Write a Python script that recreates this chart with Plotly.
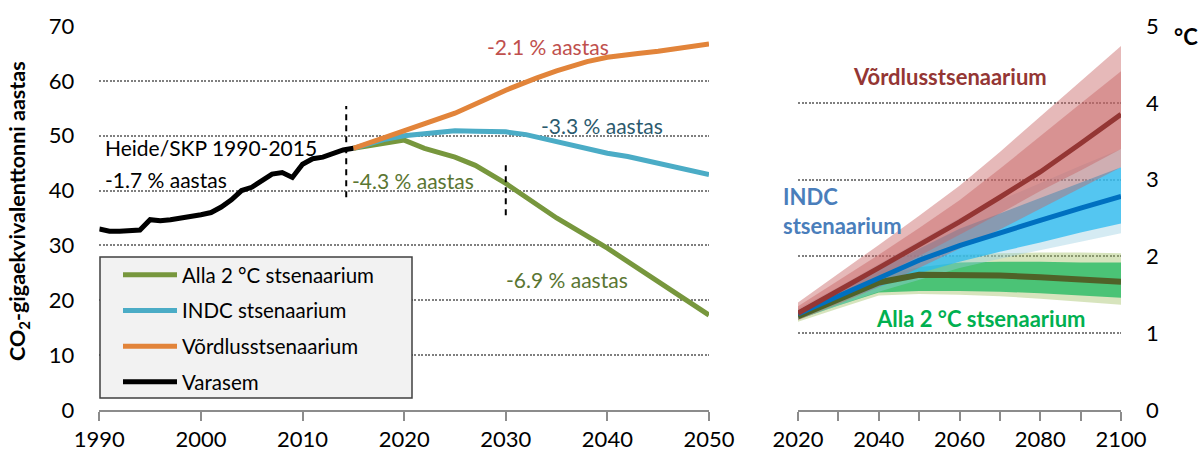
import plotly.graph_objects as go

W, H = 1203, 454
FONT = "Lato"

# ---- Left panel: global emissions, Gt CO2-eq per year ----
hist_years = list(range(1990, 2016))
hist_vals = [33.0, 32.6, 32.6, 32.7, 32.8, 34.7, 34.5, 34.7, 35.0, 35.1,
             35.6, 36.0, 37.0, 38.3, 40.0, 40.6, 41.8, 43.0, 43.3, 42.4,
             44.8, 45.8, 46.1, 46.8, 47.4, 47.7]

alla2_years = [2015, 2018, 2020, 2022, 2025, 2027, 2030, 2035, 2040, 2045, 2050]
alla2_vals = [47.7, 48.6, 49.2, 47.7, 46.1, 44.6, 41.3, 35.0, 29.5, 23.4, 17.3]

indc_years = [2015, 2018, 2020, 2022, 2025, 2027, 2030, 2032, 2035, 2037,
              2039, 2040, 2042, 2045, 2050]
indc_vals = [47.7, 49.3, 50.0, 50.4, 50.9, 50.8, 50.7, 50.2, 48.9, 48.0,
             47.1, 46.8, 46.2, 44.9, 42.9]

vord_years = [2015, 2018, 2020, 2022, 2025, 2028, 2030, 2033, 2035, 2038,
              2040, 2043, 2045, 2050]
vord_vals = [47.7, 49.6, 50.7, 52.0, 54.1, 56.6, 58.3, 60.5, 61.8, 63.5,
             64.3, 65.0, 65.4, 66.7]

# ---- Right panel: warming, degrees C ----
t_years = [2020, 2030, 2040, 2050, 2060, 2070, 2080, 2090, 2100]

vord_med = [1.26, 1.55, 1.85, 2.15, 2.45, 2.77, 3.10, 3.47, 3.85]
vord_out_hi = [1.40, 1.77, 2.15, 2.53, 2.92, 3.36, 3.82, 4.28, 4.74]
vord_out_lo = [1.17, 1.38, 1.60, 1.85, 2.10, 2.35, 2.62, 2.89, 3.16]
vord_in_hi = [1.35, 1.68, 2.02, 2.37, 2.73, 3.14, 3.57, 3.99, 4.41]
vord_in_lo = [1.20, 1.45, 1.72, 2.00, 2.28, 2.56, 2.85, 3.12, 3.40]

indc_med = [1.25, 1.48, 1.72, 1.95, 2.14, 2.31, 2.47, 2.63, 2.78]
indc_out_hi = [1.32, 1.60, 1.90, 2.20, 2.50, 2.73, 2.96, 3.18, 3.40]
indc_out_lo = [1.18, 1.36, 1.54, 1.70, 1.85, 1.97, 2.08, 2.19, 2.30]
indc_in_hi = [1.30, 1.56, 1.83, 2.10, 2.36, 2.56, 2.76, 2.96, 3.16]
indc_in_lo = [1.20, 1.40, 1.60, 1.78, 1.93, 2.06, 2.18, 2.31, 2.43]

alla2_med = [1.22, 1.44, 1.66, 1.76, 1.76, 1.75, 1.73, 1.70, 1.67]
alla2_out_hi = [1.30, 1.55, 1.80, 1.95, 2.02, 2.04, 2.05, 2.05, 2.04]
alla2_out_lo = [1.15, 1.32, 1.49, 1.51, 1.50, 1.48, 1.45, 1.41, 1.37]
alla2_in_hi = [1.27, 1.50, 1.74, 1.86, 1.92, 1.93, 1.93, 1.92, 1.92]
alla2_in_lo = [1.18, 1.36, 1.53, 1.55, 1.55, 1.54, 1.52, 1.49, 1.46]

left_ticks = list(range(1990, 2051, 10))
right_ticks = list(range(2020, 2101, 20))

C_GREEN, C_BLUE, C_ORANGE = "#77973d", "#4bacc6", "#e2843a"
GRID = "#7f7f7f"
AXIS = "#8c8c8c"

fig = go.Figure()

# emission pathways (legend order follows insertion)
for i, (name, xs, ys, col) in enumerate([
        ("Alla 2 °C stsenaarium", alla2_years, alla2_vals, C_GREEN),
        ("INDC stsenaarium", indc_years, indc_vals, C_BLUE),
        ("Võrdlusstsenaarium", vord_years, vord_vals, C_ORANGE),
        ("Varasem", hist_years, hist_vals, "#000000")]):
    fig.add_trace(go.Scatter(x=xs, y=ys, mode="lines", name=name,
                             legendgroup=f"g{i}",
                             line=dict(color=col, width=5),
                             xaxis="x", yaxis="y", hoverinfo="skip"))


def band(hi, lo, color):
    fig.add_trace(go.Scatter(x=t_years + t_years[::-1], y=hi + lo[::-1],
                             mode="lines", fill="toself", fillcolor=color,
                             line=dict(width=0), showlegend=False,
                             xaxis="x2", yaxis="y2", hoverinfo="skip"))


band(alla2_out_hi, alla2_out_lo, "rgba(155,187,89,0.40)")
band(alla2_in_hi, alla2_in_lo, "rgba(0,176,80,0.65)")
band(indc_out_hi, indc_out_lo, "rgba(150,205,225,0.40)")
band(indc_in_hi, indc_in_lo, "rgba(40,185,240,0.75)")
band(vord_out_hi, vord_out_lo, "rgba(200,100,100,0.45)")
band(vord_in_hi, vord_in_lo, "rgba(200,100,100,0.45)")

for ys, col, w in [(alla2_med, "#4f6228", 6), (indc_med, "#0070c0", 5),
                   (vord_med, "#943634", 5)]:
    fig.add_trace(go.Scatter(x=t_years, y=ys, mode="lines", showlegend=False,
                             line=dict(color=col, width=w),
                             xaxis="x2", yaxis="y2", hoverinfo="skip"))

px_x = lambda p: p / W
px_y = lambda p: 1 - p / H

dom_y = [px_y(410), px_y(26)]
tickfont = dict(family=FONT, size=22, color="#000000")

fig.update_layout(
    template="none",
    width=W, height=H, margin=dict(l=0, r=0, t=0, b=0, pad=0),
    paper_bgcolor="white", plot_bgcolor="rgba(0,0,0,0)",
    font=dict(family=FONT, color="#000000"),
    xaxis=dict(domain=[px_x(99.3), px_x(709)], range=[1990, 2050],
               tickvals=left_ticks, tickfont=tickfont, automargin=False,
               showline=True, linecolor=AXIS, linewidth=2,
               ticks="outside", ticklen=9, tickwidth=2, tickcolor=AXIS,
               showgrid=False, zeroline=False, fixedrange=True,
               anchor="y"),
    yaxis=dict(domain=dom_y, range=[0, 70], dtick=10, tickfont=tickfont,
               automargin=False,
               showgrid=True, gridcolor=GRID, gridwidth=1.5,
               griddash="2px,1.5px", zeroline=False, showline=False,
               ticks="", ticklabelstandoff=24, anchor="x"),
    xaxis2=dict(domain=[px_x(798), px_x(1121)], range=[2020, 2100],
                tickvals=right_ticks, tickfont=tickfont, automargin=False,
                showline=True, linecolor=AXIS, linewidth=2,
                ticks="outside", ticklen=9, tickwidth=2, tickcolor=AXIS,
                minor=dict(dtick=10, tick0=2020, ticks="outside", ticklen=9,
                           tickwidth=2, tickcolor=AXIS, showgrid=False),
                showgrid=False, zeroline=False, anchor="y2"),
    yaxis2=dict(domain=dom_y, range=[0, 5], dtick=1, tickfont=tickfont,
                side="right", automargin=False,
                showgrid=True, gridcolor=GRID, gridwidth=1.5,
                griddash="2px,1.5px", zeroline=False, showline=False,
                ticks="", ticklabelstandoff=24, anchor="x2"),
    showlegend=True,
    legend=dict(x=px_x(118), y=px_y(255), xanchor="left", yanchor="top",
                bgcolor="rgba(0,0,0,0)", borderwidth=0,
                font=dict(family=FONT, size=20.5, color="#000000"),
                traceorder="grouped", tracegroupgap=6, itemwidth=54),
)

# legend frame
fig.add_shape(type="rect", xref="paper", yref="paper",
              x0=px_x(100), x1=px_x(412), y0=px_y(398), y1=px_y(257),
              fillcolor="#f2f2f2", line=dict(color="#404040", width=1.5),
              layer="above")

# period markers
fig.add_shape(type="line", xref="x", yref="y", x0=2014.3, x1=2014.3,
              y0=38.8, y1=55.4, line=dict(color="black", width=2, dash="6px,5px"))
fig.add_shape(type="line", xref="x", yref="y", x0=2030, x1=2030,
              y0=35.5, y1=44.8, line=dict(color="black", width=2, dash="6px,5px"))

note = dict(family=FONT, size=21)
for txt, x, y, col in [
        ("Heide/SKP 1990-2015", 1990.4, 47.8, "#000000"),
        ("-1.7 % aastas", 1990.4, 42.1, "#000000"),
        ("-4.3 % aastas", 2014.7, 41.9, "#5a7632"),
        ("-2.1 % aastas", 2028.0, 66.2, "#c0504d"),
        ("-3.3 % aastas", 2033.3, 51.8, "#2b5a6e"),
        ("-6.9 % aastas", 2029.8, 23.7, "#5a7632")]:
    fig.add_annotation(x=x, y=y, xref="x", yref="y", text=txt, showarrow=False,
                       xanchor="left", yanchor="middle",
                       font=dict(note, color=col))

bold = dict(family=FONT, size=22, weight="bold")
fig.add_annotation(x=2057.6, y=4.34, xref="x2", yref="y2",
                   text="Võrdlusstsenaarium", showarrow=False,
                   xanchor="center", yanchor="middle",
                   font=dict(bold, color="#943634"))
fig.add_annotation(x=px_x(781), y=px_y(211), xref="paper", yref="paper",
                   text="INDC<br>stsenaarium", showarrow=False, align="left",
                   xanchor="left", yanchor="middle",
                   font=dict(bold, color="#4a7ebb"))
fig.add_annotation(x=2065.3, y=1.19, xref="x2", yref="y2",
                   text="Alla 2 °C stsenaarium", showarrow=False,
                   xanchor="center", yanchor="middle",
                   font=dict(bold, color="#00b050"))
fig.add_annotation(x=px_x(1172), y=px_y(37), xref="paper", yref="paper",
                   text="°C", showarrow=False, xanchor="left", yanchor="middle",
                   font=dict(family=FONT, size=22, weight="bold", color="#000000"))
fig.add_annotation(x=px_x(19), y=px_y(211), xref="paper", yref="paper",
                   text="CO<sub>2</sub>-gigaekvivalenttonni aastas",
                   textangle=-90, showarrow=False,
                   xanchor="center", yanchor="middle",
                   font=dict(family=FONT, size=21.5, weight="bold", color="#000000"))

fig.write_html("out.html")
